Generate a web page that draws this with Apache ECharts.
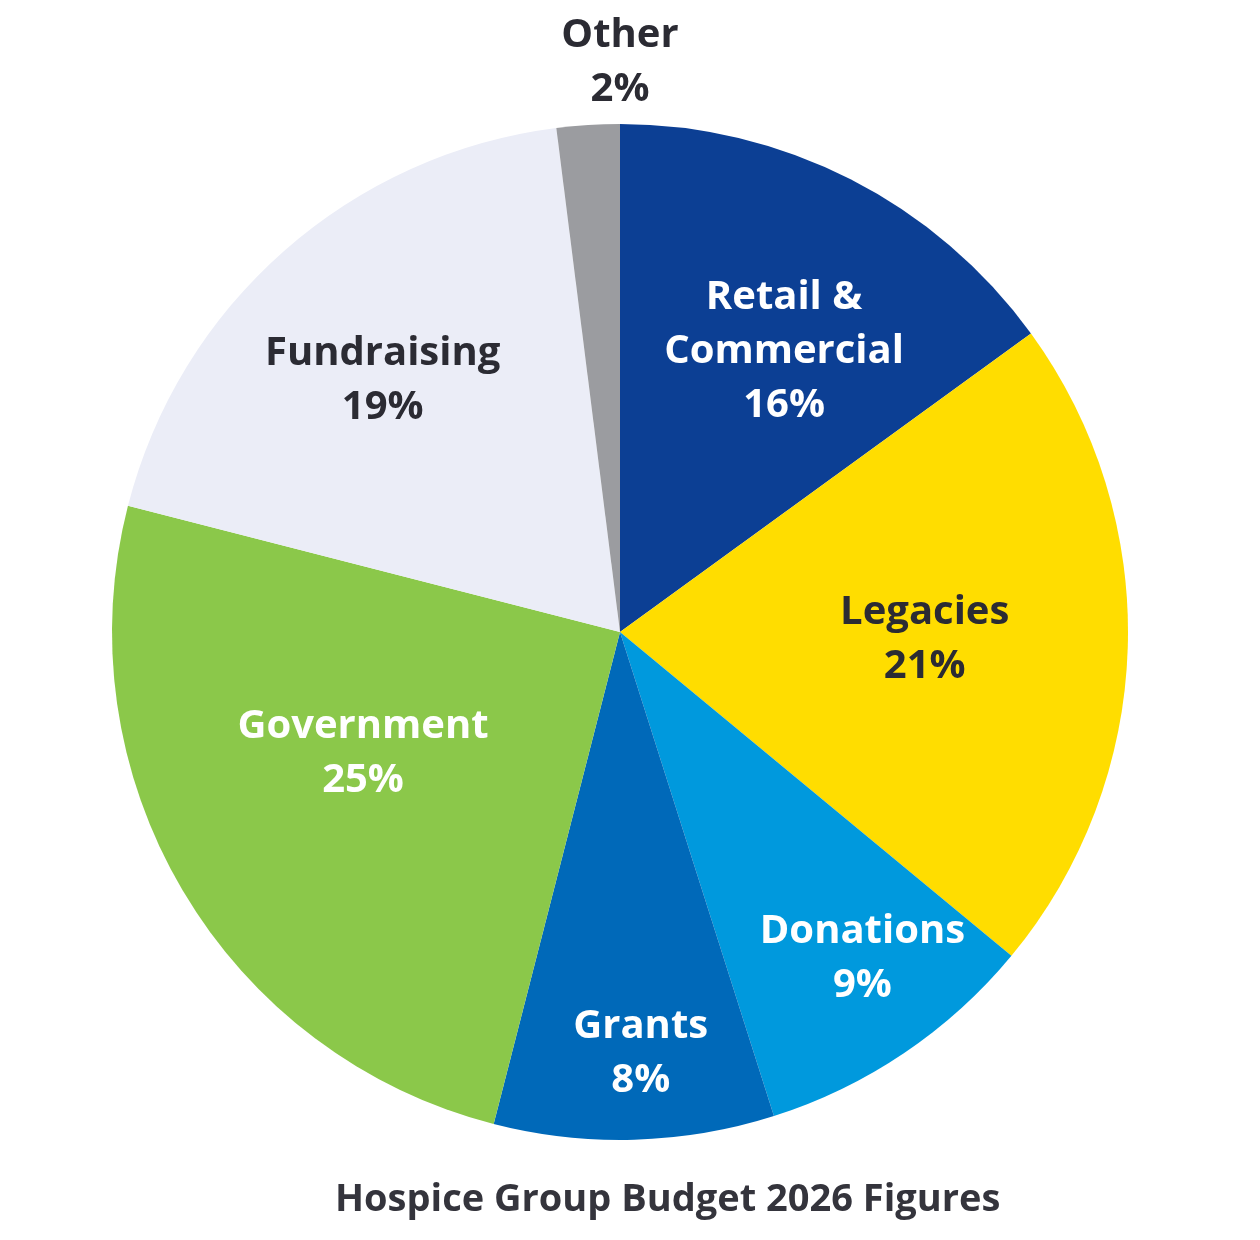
<!DOCTYPE html>
<html>
<head>
<meta charset="utf-8">
<script src="https://cdn.jsdelivr.net/npm/echarts@6/dist/echarts.min.js"></script>
<style>
  html, body { margin: 0; padding: 0; background: #fff; }
  #chart { width: 1260px; height: 1240px; }
</style>
</head>
<body>
<div id="chart"></div>
<script>
const categories = ['Retail &\nCommercial', 'Legacies', 'Donations', 'Grants', 'Government', 'Fundraising', 'Other']
// slice sizes as drawn in the picture
const sliceValues = [15.0, 21.0, 9.1, 8.9, 25.0, 19.0, 2.0]
// percentages printed on the labels
const labelPercents = [16, 21, 9, 8, 25, 19, 2]
const colors = ['#0c3f94', '#ffdd00', '#0099dd', '#0069b9', '#8bc84a', '#ebedf7', '#9b9ca0']
const labelColors = ['#fff', '#2b2b33', '#fff', '#fff', '#fff', '#2b2b33', '#2b2b33']
// where each label sits: fraction of radius, and angle shift (deg) from the slice middle
const labelRadius = [0.64, 0.6, 0.8, 0.83, 0.56, 0.68, 1.12]
const labelShift = [3.3, -0.4, -2.6, -1.2, 5.2, -2.0, 3.6]

const cx = 620, cy = 632, R = 508
const total = sliceValues.reduce((a, b) => a + b, 0)

const chart = echarts.init(document.getElementById('chart'))
chart.setOption({
  animation: false,
  title: {
    text: 'Hospice Group Budget 2026 Figures',
    left: 330,
    top: 1176,
    textStyle: { fontFamily: 'Open Sans', fontWeight: 'bold', fontSize: 38, color: '#34343c' }
  },
  series: [{
    type: 'pie',
    center: [cx, cy],
    radius: [0, R],
    startAngle: 90,
    clockwise: true,
    data: categories.map((name, i) => ({
      name,
      value: sliceValues[i],
      itemStyle: { color: colors[i] },
      label: { color: labelColors[i] }
    })),
    label: {
      show: true,
      position: 'inside',
      formatter: p => p.name + '\n' + labelPercents[p.dataIndex] + '%',
      fontFamily: 'Open Sans',
      fontWeight: 'bold',
      fontSize: 40,
      lineHeight: 54,
      align: 'center'
    },
    labelLine: { show: false },
    labelLayout: params => {
      const i = params.dataIndex
      let before = 0
      for (let k = 0; k < i; k++) before += sliceValues[k]
      const mid = (before + sliceValues[i] / 2) / total * 360 + labelShift[i]
      const a = mid * Math.PI / 180
      const r = labelRadius[i] * R
      return {
        x: cx + r * Math.sin(a),
        y: cy - r * Math.cos(a),
        align: 'center',
        verticalAlign: 'middle'
      }
    }
  }]
})
</script>
</body>
</html>
